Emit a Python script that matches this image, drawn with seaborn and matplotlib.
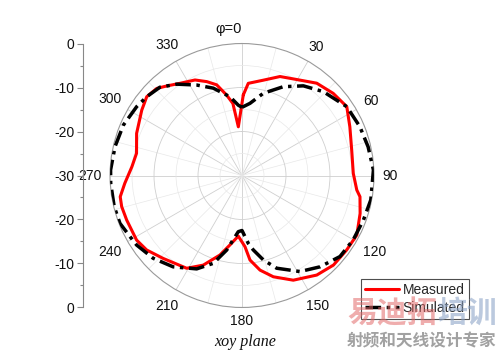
import numpy as np
import pandas as pd
import matplotlib
matplotlib.use("Agg")
import matplotlib.pyplot as plt
import seaborn as sns

# ---------------- data ----------------
meas_deg = [0.9, 3.9, 12.6, 21.0, 29.6, 39.0, 48.0, 56.7, 65.7, 76.9, 88.9, 97.2, 100.2,
            107.8, 117.4, 125.4, 134.4, 143.1, 153.9, 162.8, 169.2, 174.6, 177.6, 183.5,
            189.8, 195.5, 203.4, 210.8, 223.5, 232.0, 238.5, 248.9, 255.5, 260.1, 266.2,
            274.6, 281.9, 291.8, 303.1, 309.6, 315.6, 319.9, 326.1, 333.8, 339.4, 344.4,
            349.2, 352.8, 355.7, 360.9]
meas_db = [-11.7, -9.0, -7.8, -5.9, -4.9, -3.0, -2.1, -1.5, -3.1, -4.4, -4.7, -3.7, -2.75,
           -1.8, -0.6, -0.8, -0.9, -1.7, -3.5, -5.9, -8.1, -10.7, -13.8, -16.2,
           -14.0, -11.25, -7.8, -5.45, -4.0, -2.5, -1.9, -1.9, -1.75, -1.9, -3.3,
           -4.9, -5.5, -4.2, -2.8, -1.9, -2.3, -3.4, -4.75, -5.8, -7.2, -8.6,
           -11.4, -13.5, -18.9, -11.7]

sim_deg = [0.0, 6.3, 14.5, 24.9, 34.4, 44.1, 56.7, 67.5, 77.2, 87.6, 100.7, 110.1, 120.1,
           129.6, 139.5, 148.9, 159.5, 165.8, 171.4, 174.7, 180.0, 183.8, 191.6, 198.1,
           205.9, 217.0, 227.0, 236.6, 241.4, 248.6, 256.4, 266.6, 272.4, 282.8, 293.0,
           303.2, 309.6, 317.1, 324.5, 333.4, 341.8, 351.3, 357.0, 360.0]
sim_db = [-14.5, -13.5, -10.7, -7.75, -5.3, -3.45, -1.5, -1.0, -0.6, -0.1, -0.2, -0.6, -0.8,
          -1.1, -2.7, -4.5, -7.5, -10.2, -12.9, -14.5, -17.5, -17.2, -12.7, -9.0,
          -6.4, -4.0, -2.4, -1.3, -1.0, -0.2, -0.1, -0.1, -0.1, -0.4, -0.7,
          -1.4, -1.9, -2.6, -4.5, -7.0, -9.1, -11.9, -14.0, -14.5]

series_names = ["Measured", "Simulated"]
theta_ticks = [0, 30, 60, 90, 120, 150, 180, 210, 240, 270, 300, 330]
theta_labels = ["\u03c6=0", "30", "60", "90", "120", "150", "180", "210", "240",
                "270", "300", "330"]
left_ticks = [30, 20, 10, 0, -10, -20, -30]
left_labels = ["0", "-10", "-20", "-30", "-20", "-10", "0"]

# ---------------- style ----------------
sns.set_theme(style="white")
plt.rcParams["font.family"] = ["Liberation Sans", "DejaVu Sans"]

fig = plt.figure(figsize=(5.0, 3.51), dpi=100)
ax = fig.add_axes([0.22, 0.124, 0.528, 0.752], projection="polar")
ax.set_theta_zero_location("N")
ax.set_theta_direction(-1)
ax.set_ylim(-30, 0)

df_m = pd.DataFrame({"theta": np.deg2rad(meas_deg), "r": meas_db})
df_s = pd.DataFrame({"theta": np.deg2rad(sim_deg), "r": sim_db})

sns.lineplot(data=df_m, x="theta", y="r", ax=ax, sort=False, estimator=None,
             color="#ff0000", lw=2.2, label=series_names[0], zorder=3)
sns.lineplot(data=df_s, x="theta", y="r", ax=ax, sort=False, estimator=None,
             color="black", lw=2.5, linestyle=(0, (4.5, 1.6, 1.0, 1.6)),
             label=series_names[1], zorder=4)
ax.set_xlabel("")
ax.set_ylabel("")

# grid
ax.set_xticks(np.deg2rad(theta_ticks))
ax.set_xticks(np.deg2rad(np.arange(15, 360, 30)), minor=True)
ax.set_yticks([-20, -10])
ax.set_yticks([-25, -15, -5], minor=True)
ax.set_xticklabels([])
ax.set_yticklabels([])
ax.tick_params(axis="both", which="both", length=0)
ax.grid(True, which="major", color="#cfcfcf", lw=0.6)
ax.grid(True, which="minor", color="#e8e8e8", lw=0.5)
ax.spines["polar"].set_color("#9a9a9a")
ax.spines["polar"].set_linewidth(0.8)
ax.set_facecolor("white")

# theta labels (centers placed just outside the rim)
px_per_db = 4.4
for ang, lab in zip(theta_ticks, theta_labels):
    s, c = abs(np.sin(np.deg2rad(ang))), abs(np.cos(np.deg2rad(ang)))
    if lab.startswith("\u03c6"):
        px = 146.5
        ax.annotate(lab, xy=(0, -30 + px / px_per_db), xytext=(-9.5, 0),
                    textcoords="offset points", ha="center", va="center",
                    fontsize=10.5, color="#111111", annotation_clip=False)
        continue
    px = 140 + 3.9 * len(lab) * s + 5.5 * c
    ax.text(np.deg2rad(ang), -30 + px / px_per_db, lab, ha="center", va="center",
            fontsize=10, color="#111111", clip_on=False)

# left linear dB axis
ax2 = fig.add_axes([83 / 500, 0.124, 0.0005, 0.752])
ax2.set_ylim(-30, 30)
ax2.set_xticks([])
for sp in ["top", "right", "bottom"]:
    ax2.spines[sp].set_visible(False)
ax2.spines["left"].set_color("#888888")
ax2.spines["left"].set_linewidth(0.8)
ax2.set_yticks(left_ticks)
ax2.set_yticklabels(left_labels, fontsize=10, color="#111111")
ax2.set_yticks(np.arange(-25, 30, 10), minor=True)
ax2.tick_params(axis="y", which="major", length=4, width=0.8, color="#888888",
                direction="out", pad=2, left=True)
ax2.tick_params(axis="y", which="minor", length=2.5, width=0.8, color="#888888",
                direction="out", left=True)
ax2.patch.set_alpha(0)

# caption
fig.text(245 / 500, 1 - 341.5 / 351, "xoy plane", ha="center", va="center",
         fontsize=11.5, style="italic", family=["Liberation Serif", "DejaVu Serif"],
         color="#111111")

# legend
leg = ax.legend(loc="upper left", bbox_to_anchor=(361 / 500, 1 - 279 / 351),
                bbox_transform=fig.transFigure, frameon=True, fancybox=False,
                fontsize=10, handlelength=2.4, handletextpad=0.3,
                labelspacing=0.25, borderpad=0.3, borderaxespad=0)
leg.get_frame().set_edgecolor("#222222")
leg.get_frame().set_linewidth(0.8)
leg.set_zorder(10)

# watermark
cjk = ["Noto Sans CJK SC", "DejaVu Sans"]
fig.text(347 / 500, 1 - 313 / 351, "易迪拓", ha="left", va="center", fontsize=21.5,
         fontweight="bold", family=cjk, color="#e26a6a", alpha=0.55, zorder=20)
fig.text(437 / 500, 1 - 313 / 351, "培训", ha="left", va="center", fontsize=21.5,
         fontweight="bold", family=cjk, color="#8fa6c8", alpha=0.6, zorder=20)
fig.text(422 / 500, 1 - 341.5 / 351, "射频和天线设计专家", ha="center", va="center",
         fontsize=12, fontweight="bold", family=cjk, color="#8a8a8a", alpha=0.8,
         zorder=20)

fig.savefig("out.png", dpi=100, facecolor="white")
